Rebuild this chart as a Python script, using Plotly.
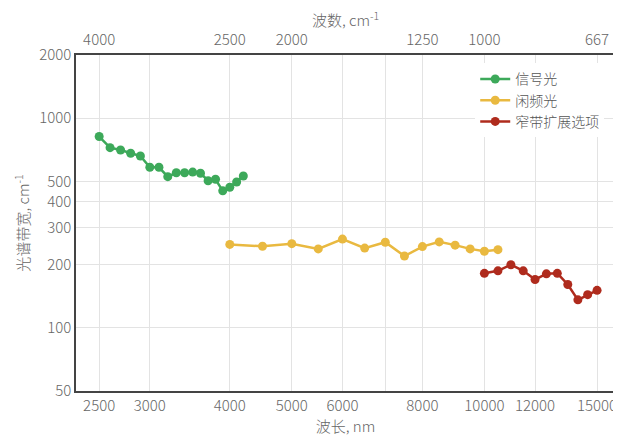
import math
import plotly.graph_objects as go

# --- data ---
signal_wl = [2500, 2600, 2700, 2800, 2900, 3000, 3100, 3200, 3300, 3400, 3500, 3600,
             3700, 3800, 3900, 4000, 4100, 4200]
signal_bw = [817, 723, 705, 680, 660, 583, 583, 526, 549, 549, 553, 546,
             503, 511, 450, 468, 496, 530]

idler_wl = [4000, 4500, 5000, 5500, 6000, 6500, 7000, 7500, 8000, 8500, 9000, 9500,
            10000, 10500]
idler_bw = [250, 245, 252, 238, 265, 240, 256, 220, 244, 257, 248, 238, 232, 236]

narrow_wl = [10000, 10500, 11000, 11500, 12000, 12500, 13000, 13500, 14000, 14500, 15000]
narrow_bw = [182, 187, 200, 187, 170, 181, 182, 161, 136, 144, 151]

series_names = ["信号光", "闲频光", "窄带扩展选项"]
series_colors = ["#3DA95A", "#E9B940", "#AF2B1D"]

x_tickvals = [2500, 3000, 4000, 5000, 6000, 7000, 8000, 10000, 12000, 15000]
x_ticktext = ["2500", "3000", "4000", "5000", "6000", "", "8000", "10000", "12000", "15000"]

wavenumber_ticks = [4000, 2500, 2000, 1250, 1000, 667]

y_tickvals = [50, 100, 200, 300, 400, 500, 1000, 2000]

x_range = [2300, 16000]
y_range = [50, 2000]

FONT = "Noto Sans CJK SC"
TXT = "#666"
fig = go.Figure()
for wl, bw, name, color in zip([signal_wl, idler_wl, narrow_wl],
                               [signal_bw, idler_bw, narrow_bw],
                               series_names, series_colors):
    fig.add_trace(go.Scatter(x=wl, y=bw, name=name, mode="lines+markers",
                             line=dict(color=color, width=2.5),
                             marker=dict(color=color, size=9)))

lx = [math.log10(v) for v in x_range]
ly = [math.log10(v) for v in y_range]

tickfont = dict(size=15, color=TXT, family=FONT, weight=300)
axis_common = dict(showline=True, linecolor="#444", linewidth=1.5,
                   ticks="", automargin=False, tickfont=tickfont,
                   zeroline=False)
title_font = dict(size=15, color=TXT, family=FONT, weight=300)

fig.update_layout(
    width=613, height=431,
    margin=dict(l=68, r=6, t=47, b=48),
    paper_bgcolor="white", plot_bgcolor="white",
    font=dict(family=FONT, color=TXT),
    xaxis=dict(type="log", range=lx, tickvals=x_tickvals, ticktext=x_ticktext,
               gridcolor="#e3e3e3", gridwidth=1,
               title=dict(text="波长, nm", font=title_font, standoff=4),
               **axis_common),
    xaxis2=dict(type="log", range=lx, overlaying="x", side="top", anchor="y",
                tickvals=[1e7 / w for w in wavenumber_ticks],
                ticktext=[str(w) for w in wavenumber_ticks],
                showgrid=False, ticklabelstandoff=2,
                title=dict(text="波数, cm<sup>-1</sup>", font=title_font, standoff=8),
                **axis_common),
    yaxis=dict(type="log", range=ly, tickvals=y_tickvals,
               ticktext=[str(v) for v in y_tickvals],
               gridcolor="#e3e3e3", gridwidth=1,
               title=dict(text="光谱带宽, cm<sup>-1</sup>", font=title_font, standoff=6),
               mirror=True, **axis_common),
    legend=dict(x=0.98, y=0.975, xanchor="right", yanchor="top",
                bgcolor="white", borderwidth=0,
                font=dict(size=14, color="#555", family=FONT, weight=300),
                tracegroupgap=0),
    showlegend=True,
)
# invisible helper trace binding the top (wavenumber) axis
fig.add_trace(go.Scatter(x=[x_range[0]], y=[y_range[0]], xaxis="x2", mode="markers",
                         marker=dict(opacity=0), showlegend=False, hoverinfo="skip"))

fig.write_html("out.html")
